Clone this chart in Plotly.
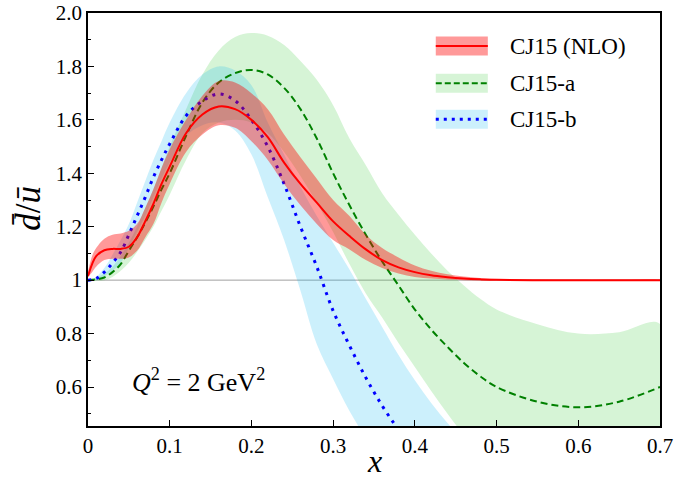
import plotly.graph_objects as go

# ---------------- data ----------------
x_grid = [0.0, 0.005, 0.01, 0.02, 0.03, 0.04, 0.05, 0.06, 0.07, 0.08, 0.09, 0.10,
          0.12, 0.14, 0.16, 0.18, 0.20, 0.22, 0.24, 0.26, 0.28, 0.30, 0.32, 0.34,
          0.36, 0.38, 0.40, 0.42, 0.44, 0.46, 0.48, 0.50, 0.55, 0.60, 0.65, 0.70]

cj15_central = [1.015, 1.06, 1.09, 1.112, 1.117, 1.117, 1.125, 1.16, 1.22, 1.285, 1.36, 1.425,
                1.55, 1.62, 1.65, 1.64, 1.60, 1.535, 1.44, 1.36, 1.29, 1.22, 1.165, 1.115,
                1.075, 1.048, 1.03, 1.018, 1.011, 1.006, 1.003, 1.001, 1.0, 1.0, 1.0, 1.0]
cj15_upper = [1.015, 1.09, 1.12, 1.155, 1.17, 1.175, 1.185, 1.21, 1.27, 1.34, 1.42, 1.49,
              1.60, 1.69, 1.745, 1.74, 1.70, 1.64, 1.545, 1.46, 1.38, 1.30, 1.24, 1.17,
              1.12, 1.085, 1.055, 1.035, 1.022, 1.014, 1.008, 1.004, 1.002, 1.001, 1.001, 1.001]
cj15_lower = [1.015, 1.03, 1.05, 1.075, 1.08, 1.08, 1.085, 1.11, 1.16, 1.21, 1.29, 1.36,
              1.48, 1.545, 1.58, 1.57, 1.52, 1.45, 1.36, 1.28, 1.21, 1.15, 1.115, 1.075,
              1.045, 1.025, 1.012, 1.006, 1.002, 1.0, 0.999, 0.999, 0.999, 0.999, 0.999, 0.999]

cj15a_central = [1.0, 1.001, 1.003, 1.01, 1.03, 1.06, 1.11, 1.16, 1.215, 1.275, 1.34, 1.40,
                 1.54, 1.665, 1.74, 1.775, 1.787, 1.77, 1.72, 1.64, 1.53, 1.40, 1.28, 1.17,
                 1.07, 0.98, 0.89, 0.815, 0.75, 0.69, 0.64, 0.60, 0.545, 0.524, 0.545, 0.60]
cj15a_upper = [1.0, 1.004, 1.01, 1.025, 1.05, 1.09, 1.14, 1.20, 1.27, 1.34, 1.42, 1.50,
               1.64, 1.77, 1.86, 1.91, 1.925, 1.915, 1.88, 1.82, 1.75, 1.655, 1.53, 1.43,
               1.325, 1.245, 1.17, 1.10, 1.035, 0.98, 0.93, 0.89, 0.835, 0.80, 0.805, 0.836]
cj15a_lower = [1.0, 0.999, 0.998, 1.0, 1.012, 1.035, 1.065, 1.105, 1.15, 1.20, 1.26, 1.32,
               1.45, 1.55, 1.59, 1.60, 1.59, 1.55, 1.48, 1.39, 1.29, 1.18, 1.06, 0.95,
               0.86, 0.765, 0.675, 0.585, 0.50, 0.42, 0.35, 0.30, 0.22, 0.20, 0.21, 0.25]

cj15b_central = [1.0, 1.002, 1.006, 1.03, 1.064, 1.105, 1.17, 1.24, 1.31, 1.385, 1.45, 1.51,
                 1.615, 1.67, 1.697, 1.672, 1.60, 1.50, 1.36, 1.20, 1.05, 0.885, 0.755, 0.635,
                 0.53, 0.44, 0.36, 0.29, 0.23, 0.18, 0.14, 0.10, 0.05, 0.02, 0.0, 0.0]
cj15b_upper = [1.0, 1.004, 1.012, 1.045, 1.095, 1.15, 1.21, 1.29, 1.37, 1.45, 1.52, 1.59,
               1.70, 1.77, 1.80, 1.785, 1.73, 1.59, 1.47, 1.35, 1.24, 1.14, 1.04, 0.93,
               0.825, 0.72, 0.625, 0.54, 0.465, 0.40, 0.34, 0.29, 0.2, 0.15, 0.1, 0.1]
cj15b_lower = [1.0, 1.0, 1.0, 1.015, 1.035, 1.065, 1.12, 1.18, 1.24, 1.31, 1.38, 1.44,
               1.54, 1.58, 1.59, 1.56, 1.47, 1.31, 1.15, 0.96, 0.76, 0.63, 0.51, 0.41,
               0.33, 0.26, 0.2, 0.15, 0.1, 0.08, 0.05, 0.03, 0.0, 0.0, 0.0, 0.0]

x_ticks = [0, 0.1, 0.2, 0.3, 0.4, 0.5, 0.6, 0.7]
x_ticktext = ["0", "0.1", "0.2", "0.3", "0.4", "0.5", "0.6", "0.7"]
y_ticks = [0.6, 0.8, 1.0, 1.2, 1.4, 1.6, 1.8, 2.0]
y_ticktext = ["0.6", "0.8", "1", "1.2", "1.4", "1.6", "1.8", "2.0"]
y_minor = [0.5, 0.7, 0.9, 1.1, 1.3, 1.5, 1.7, 1.9]

series_names = ["CJ15 (NLO)", "CJ15-a", "CJ15-b"]

# ---------------- styles ----------------
RED_BAND = "rgba(255,0,0,0.40)"
GREEN_BAND = "rgba(50,200,50,0.20)"
BLUE_BAND = "rgba(0,180,240,0.20)"
FONT = "Liberation Serif"
SMOOTH = 1.0

fig = go.Figure()


def band(xs, lo, hi, color):
    fig.add_trace(go.Scatter(
        x=list(xs) + list(xs)[::-1], y=list(hi) + list(lo)[::-1],
        fill="toself", fillcolor=color, line=dict(width=0, shape="spline", smoothing=SMOOTH),
        mode="lines", hoverinfo="skip", showlegend=False))


band(x_grid, cj15a_lower, cj15a_upper, GREEN_BAND)
band(x_grid, cj15b_lower, cj15b_upper, BLUE_BAND)

fig.add_trace(go.Scatter(x=x_grid, y=cj15a_central, mode="lines", name=series_names[1],
                         line=dict(color="#008000", width=2, dash="7px,4px", shape="spline", smoothing=SMOOTH),
                         showlegend=False))
fig.add_trace(go.Scatter(x=x_grid, y=cj15b_central, mode="lines", name=series_names[2],
                         line=dict(color="#0000ff", width=3, dash="3px,5.5px", shape="spline", smoothing=SMOOTH),
                         showlegend=False))

band(x_grid, cj15_lower, cj15_upper, RED_BAND)
fig.add_trace(go.Scatter(x=x_grid, y=cj15_central, mode="lines", name=series_names[0],
                         line=dict(color="#ff0000", width=2, shape="spline", smoothing=SMOOTH),
                         showlegend=False))

# reference line at 1
fig.add_shape(type="line", xref="paper", x0=0, x1=1, yref="y", y0=1, y1=1,
              line=dict(color="#a0a0a0", width=1), layer="below")

# ---------------- manual legend ----------------
leg_items = [(series_names[0], RED_BAND, dict(color="#ff0000", width=2)),
             (series_names[1], GREEN_BAND, dict(color="#008000", width=2, dash="6px,3px")),
             (series_names[2], BLUE_BAND, dict(color="#0000ff", width=3, dash="3px,5px"))]
leg_y = [0.920, 0.830, 0.743]
for (name, bcol, lstyle), yc in zip(leg_items, leg_y):
    fig.add_shape(type="rect", xref="paper", yref="paper", x0=0.608, x1=0.699,
                  y0=yc - 0.023, y1=yc + 0.023, fillcolor=bcol, line=dict(width=0))
    fig.add_shape(type="line", xref="paper", yref="paper", x0=0.608, x1=0.699,
                  y0=yc, y1=yc, line=lstyle)
    fig.add_annotation(xref="paper", yref="paper", x=0.734, y=yc, text=name,
                       showarrow=False, xanchor="left", yanchor="middle",
                       font=dict(family=FONT, size=23, color="black"))

# Q^2 label
fig.add_annotation(x=0.135, y=0.626, xref="x", yref="y",
                   text="<i>Q</i><sup>2</sup> = 2 GeV<sup>2</sup>", showarrow=False,
                   font=dict(family=FONT, size=26, color="black"))

# axis titles
fig.add_annotation(xref="paper", yref="paper", x=0.5, y=-0.085, text="<i>x</i>",
                   showarrow=False, font=dict(family=FONT, size=32, color="black"),
                   xanchor="center", yanchor="middle")
fig.add_annotation(xref="paper", yref="paper", x=-0.103, y=0.526,
                   text="<i>d\u0304</i>/<i>\u016b</i>", textangle=-90,
                   showarrow=False, font=dict(family=FONT, size=35, color="black"),
                   xanchor="center", yanchor="middle")

fig.update_layout(
    width=697, height=485,
    margin=dict(l=88, r=37, t=13, b=59, autoexpand=False),
    paper_bgcolor="white", plot_bgcolor="white",
    font=dict(family=FONT, size=20, color="black"),
    showlegend=False,
)
fig.update_xaxes(range=[0, 0.7], tickmode="array", tickvals=x_ticks, ticktext=x_ticktext,
                 ticks="inside", ticklen=6, tickwidth=1, tickcolor="black",
                 showline=True, linecolor="black", linewidth=1.5, mirror=True, automargin=False,
                 showgrid=False, zeroline=False, tickfont=dict(size=21), ticklabeloverflow="allow")
fig.update_yaxes(range=[0.454, 2.0], tickmode="array", tickvals=y_ticks, ticktext=y_ticktext,
                 ticks="inside", ticklen=6, tickwidth=1, tickcolor="black",
                 minor=dict(tickvals=y_minor, ticks="inside", ticklen=3.5, tickcolor="black"),
                 showline=True, linecolor="black", linewidth=1.5, mirror=True, automargin=False,
                 showgrid=False, zeroline=False, tickfont=dict(size=21), ticklabeloverflow="allow")

fig.write_html("out.html", config={"displayModeBar": False},
               post_script="document.body.style.margin='0px';")
